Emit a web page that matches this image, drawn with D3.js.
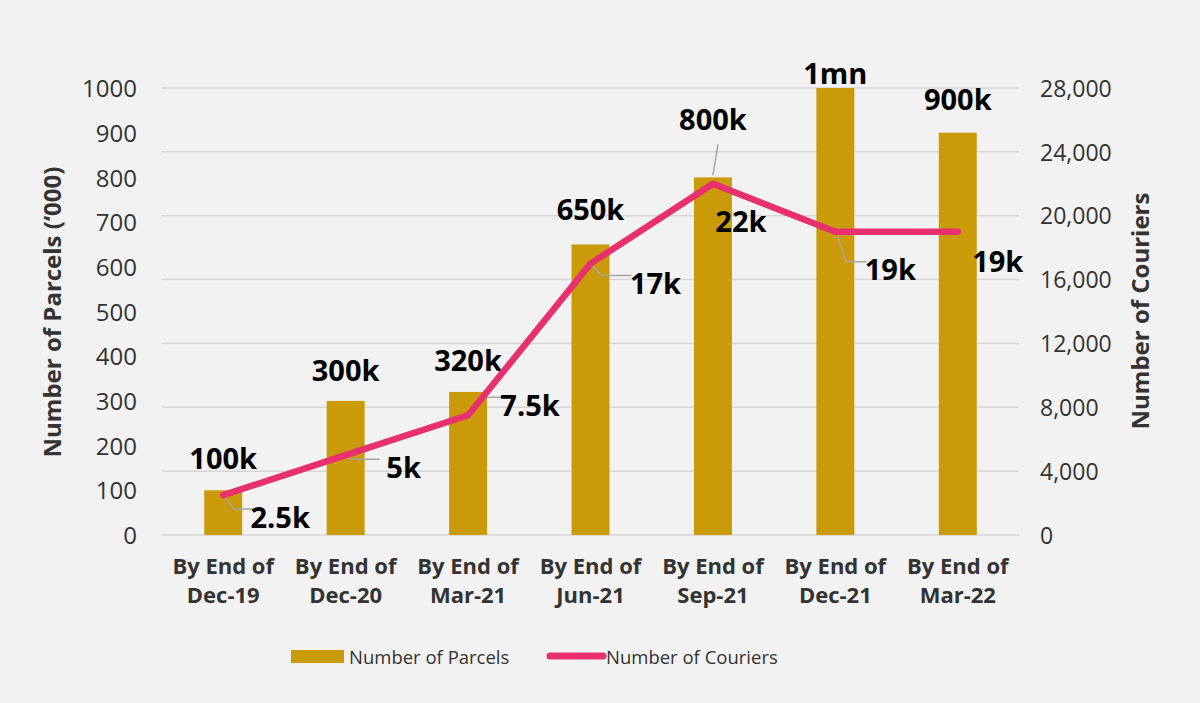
<!DOCTYPE html>
<html><head><meta charset="utf-8">
<script src="https://cdn.jsdelivr.net/npm/d3@7"></script>
<style>
body{margin:0;background:#f2f2f2;}
svg{display:block;}
text{font-family:"Open Sans",sans-serif;}
</style></head>
<body><svg id="c" width="1200" height="703"></svg>
<script>
const categories = [["By End of","Dec-19"],["By End of","Dec-20"],["By End of","Mar-21"],["By End of","Jun-21"],["By End of","Sep-21"],["By End of","Dec-21"],["By End of","Mar-22"]];
const parcels = [100, 300, 320, 650, 800, 1000, 900];
const parcelLabels = ["100k","300k","320k","650k","800k","1mn","900k"];
const couriers = [2500, 5000, 7500, 17000, 22000, 19000, 19000];
const courierLabels = ["2.5k","5k","7.5k","17k","22k","19k","19k"];
const leftTicks = [0,100,200,300,400,500,600,700,800,900,1000];
const rightTicks = [0,4000,8000,12000,16000,20000,24000,28000];

// label layout (pixel offsets relative to the data point)
const parcelLabelDy = [-21,-20,-21,-24,-47,-4,-23];
const courierLabelOffset = [[57,22],[58,12],[62,-10],[65,20],[28,38],[55,38],[40,30]];
const courierLeader = [true,true,true,true,false,true,false];

const svg = d3.select("#c");
const m = {l:162, r:1019, t:88, b:535};
const x = d3.scaleBand().domain(d3.range(categories.length)).range([m.l,m.r]).paddingInner(0.69).paddingOuter(0.345);
const yL = d3.scaleLinear().domain([0,1000]).range([m.b,m.t]);
const yR = d3.scaleLinear().domain([0,28000]).range([m.b,m.t]);

const barColor = "#CB9A08", lineColor = "#E8306F";

// gridlines
svg.append("g").selectAll("line").data(rightTicks).join("line")
  .attr("x1",m.l).attr("x2",m.r).attr("y1",d=>yR(d)).attr("y2",d=>yR(d))
  .attr("stroke","#d6d6d6").attr("stroke-width",1.5);

// left axis
const ax = d3.axisLeft(yL).tickValues(leftTicks).tickSize(0).tickPadding(0).tickFormat(d3.format("d"));
const gL = svg.append("g").attr("transform","translate(137,0)").call(ax);
gL.select(".domain").remove();
gL.selectAll("text").attr("font-size",24).attr("fill","#333").attr("dy","0.36em");

const axr = d3.axisRight(yR).tickValues(rightTicks).tickSize(0).tickPadding(0).tickFormat(d3.format(","));
const gR = svg.append("g").attr("transform","translate(1040,0)").call(axr);
gR.select(".domain").remove();
gR.selectAll("text").attr("font-size",23).attr("fill","#333").attr("dy","0.36em");

// axis titles
svg.append("text").attr("transform","translate(61,312) rotate(-90)").attr("text-anchor","middle")
  .attr("font-size",24).attr("font-weight","bold").attr("fill","#333").text("Number of Parcels (\u2018000)");
svg.append("text").attr("transform","translate(1149,311) rotate(-90)").attr("text-anchor","middle")
  .attr("font-size",24).attr("font-weight","bold").attr("fill","#333").text("Number of Couriers");

// bars
svg.append("g").selectAll("rect").data(parcels).join("rect")
  .attr("x",(d,i)=>x(i)).attr("width",x.bandwidth())
  .attr("y",d=>yL(d)).attr("height",d=>yL(0)-yL(d)).attr("fill",barColor);

// x labels
const xl = svg.append("g").selectAll("text").data(categories).join("text")
  .attr("x",(d,i)=>x(i)+x.bandwidth()/2).attr("y",574).attr("text-anchor","middle")
  .attr("font-size",22).attr("font-weight","bold").attr("fill","#333");
xl.append("tspan").attr("x",(d,i)=>x(i)+x.bandwidth()/2).text(d=>d[0]);
xl.append("tspan").attr("x",(d,i)=>x(i)+x.bandwidth()/2).attr("dy",29).text(d=>d[1]);

const cx = i => x(i)+x.bandwidth()/2;

// leader for 800k label
svg.append("line").attr("x1",cx(4)+5).attr("y1",yL(parcels[4])-33).attr("x2",cx(4)).attr("y2",yL(parcels[4])-2)
  .attr("stroke","#a6a6a6").attr("stroke-width",1.5);

// parcel labels
svg.append("g").selectAll("text").data(parcels).join("text")
  .attr("x",(d,i)=>cx(i)).attr("y",(d,i)=>yL(d)+parcelLabelDy[i]).attr("text-anchor","middle")
  .attr("font-size",29).attr("font-weight","bold").attr("fill","#000").text((d,i)=>parcelLabels[i]);

// courier leaders
const lg = svg.append("g");
couriers.forEach((d,i)=>{
  if(!courierLeader[i]) return;
  const px = cx(i), py = yR(d);
  const [ox,oy] = courierLabelOffset[i];
  const ly = py+oy - 8;
  lg.append("polyline").attr("points",`${px+2},${py+3} ${px+ox*0.12+4},${ly} ${px+ox-24},${ly}`)
    .attr("fill","none").attr("stroke","#a6a6a6").attr("stroke-width",1.5);
});

// line
svg.append("path").datum(couriers)
  .attr("d",d3.line().x((d,i)=>cx(i)).y(d=>yR(d)))
  .attr("fill","none").attr("stroke",lineColor).attr("stroke-width",6.5).attr("stroke-linecap","round").attr("stroke-linejoin","round");

// courier labels
svg.append("g").selectAll("text").data(couriers).join("text")
  .attr("x",(d,i)=>cx(i)+courierLabelOffset[i][0]).attr("y",(d,i)=>yR(d)+courierLabelOffset[i][1])
  .attr("text-anchor","middle").attr("dy","0.36em")
  .attr("font-size",29).attr("font-weight","bold").attr("fill","#000").text((d,i)=>courierLabels[i]);

// legend
const lgd = svg.append("g");
lgd.append("rect").attr("x",291).attr("y",650).attr("width",53).attr("height",13).attr("fill",barColor);
lgd.append("text").attr("x",349).attr("y",657).attr("dy","0.36em").attr("font-size",18.5).attr("fill","#333").text("Number of Parcels");
lgd.append("line").attr("x1",550).attr("x2",603).attr("y1",656).attr("y2",656).attr("stroke",lineColor).attr("stroke-width",7).attr("stroke-linecap","round");
lgd.append("text").attr("x",606).attr("y",657).attr("dy","0.36em").attr("font-size",18.5).attr("fill","#333").text("Number of Couriers");
</script></body></html>
